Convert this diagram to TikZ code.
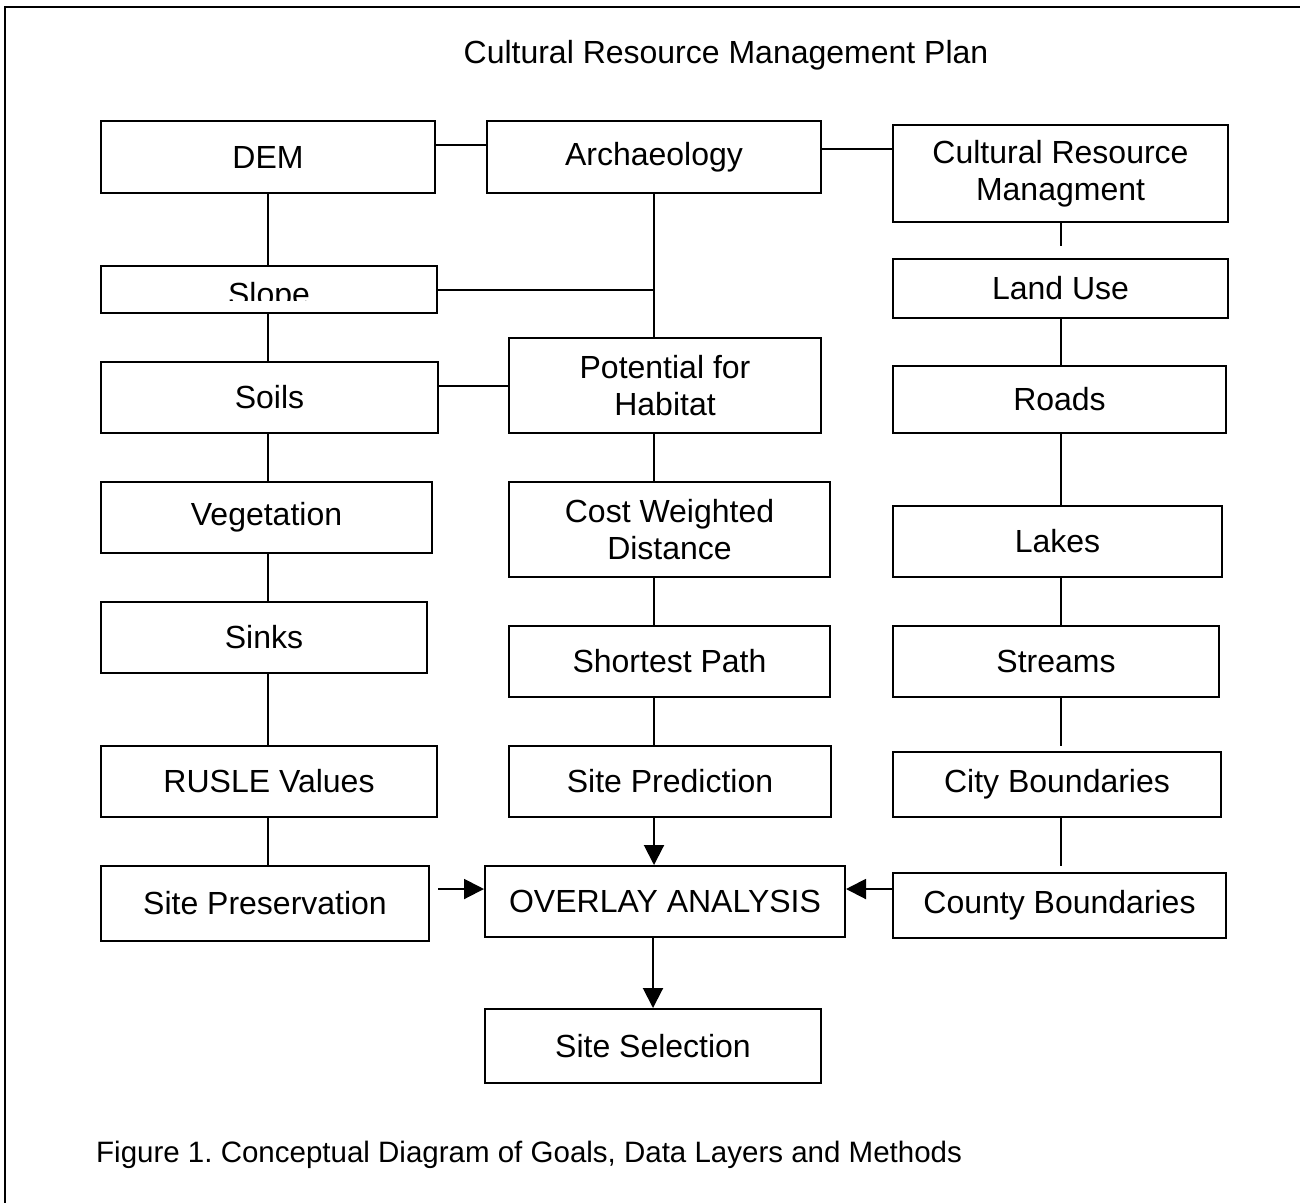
\documentclass[tikz,border=0pt]{standalone}
\usepackage{fontspec}
\setmainfont{Liberation Sans}
\usetikzlibrary{arrows.meta}
\frenchspacing

\tikzset{
  box/.style 2 args={draw, line width=2pt, inner sep=0pt, align=center,
    minimum width=#1pt, minimum height=#2pt},
  link/.style={line width=2pt},
  flow/.style={line width=2pt, -{Triangle[length=20pt,width=20pt]}}
}

\begin{document}
\begin{tikzpicture}[x=1pt, y=-1pt, font=\fontsize{32}{37}\selectfont]
  \useasboundingbox (0,0) rectangle (1300,1203);
  % frame (top and left edges only)
  \coordinate (frtr) at (1300,7);
  \coordinate (frtl) at (5,7);
  \coordinate (frbl) at (5,1203);
  \draw[link] (frtr) -- (frtl) -- (frbl);

  \node[anchor=base, inner sep=0pt] (title) at (726,63.5) {Cultural Resource Management Plan};

  % left column
  \node[box={334}{72}] (dem) at (268,157) {DEM};
  \node[box={336}{47}] (slope) at (269,289.5) {};
  \node[box={337}{71}] (soils) at (269.5,397.5) {Soils};
  \node[box={331}{71}] (veg) at (266.5,517.5) {Vegetation};
  \node[box={326}{71}] (sinks) at (264,637.5) {Sinks};
  \node[box={336}{71}] (rusle) at (269,781.5) {RUSLE Values};
  \node[box={328}{75}] (preserve) at (265,903.5) {Site Preservation};

  % middle column
  \node[box={334}{72}] (arch) at (654,157) {Archaeology};
  \node[box={312}{95}] (habitat) at (665,385.5) {Potential for\\Habitat};
  \node[box={321}{95}] (cost) at (669.5,529.5) {Cost Weighted\\Distance};
  \node[box={321}{71}] (path) at (669.5,661.5) {Shortest Path};
  \node[box={322}{71}] (predict) at (670,781.5) {Site Prediction};
  \node[box={360}{71}] (overlay) at (665,901.5) {OVERLAY ANALYSIS};
  \node[box={336}{74}] (select) at (653,1046) {Site Selection};

  % right column
  \node[box={335}{97}] (crm) at (1060.5,173.5) {Cultural Resource\\Managment};
  \node[box={335}{59}] (landuse) at (1060.5,288.5) {Land Use};
  \node[box={333}{67}] (roads) at (1059.5,399.5) {Roads};
  \node[box={329}{71}] (lakes) at (1057.5,541.5) {Lakes};
  \node[box={326}{71}] (streams) at (1056,661.5) {Streams};
  \node[box={328}{65}] (city) at (1057,784.5) {City Boundaries};
  \node[box={333}{65}] (county) at (1059.5,905.5) {County Boundaries};

  % slope label, cut off at the bottom
  \coordinate (slopecut) at (437,300);
  \begin{scope}
    \clip (slope.north west) rectangle (slopecut);
    \node[anchor=base, inner sep=0pt] (slopetxt) at (269,305) {Slope};
  \end{scope}

  % connectors
  \foreach \a/\b in {dem/slope, slope/soils, soils/veg, veg/sinks, sinks/rusle, rusle/preserve}
    \draw[link] (\a.south -| dem) -- (\b.north -| dem);
  \foreach \a/\b in {arch/habitat, habitat/cost, cost/path, path/predict}
    \draw[link] (\a.south -| arch) -- (\b.north -| arch);
  \foreach \a/\b in {landuse/roads, roads/lakes, lakes/streams}
    \draw[link] (\a.south -| crm) -- (\b.north -| crm);

  \draw[link] ([yshift=12pt]dem.east) -- ([yshift=12pt]dem.east -| arch.west);
  \draw[link] ([yshift=8pt]arch.east) -- ([yshift=8pt]arch.east -| crm.west);
  \draw[link] (slope.east) -- (slope.east -| arch);
  \draw[link] ([yshift=11.5pt]soils.east) -- ([yshift=11.5pt]soils.east -| habitat.west);

  % open ends in the right column
  \coordinate (crmend) at (1060.5,246);
  \coordinate (streamsend) at (1060.5,746);
  \coordinate (cityend) at (1060.5,866);
  \draw[link] (crm.south) -- (crmend);
  \draw[link] (streams.south -| crm) -- (streamsend);
  \draw[link] (city.south -| crm) -- (cityend);

  % arrows into and out of the overlay
  \coordinate (inl) at ([yshift=12.5pt]overlay.west);
  \coordinate (inr) at ([yshift=12.5pt]overlay.east);
  \draw[flow] (predict.south -| arch) -- (overlay.north -| arch);
  \draw[flow] ([xshift=8pt]preserve.east |- inl) -- (inl);
  \draw[flow] (county.west |- inr) -- (inr);
  \draw[flow] (overlay.south -| select) -- (select.north);

  \node[anchor=base west, inner sep=0pt, font=\fontsize{29.5}{35}\selectfont] (caption) at (96,1162.5)
    {Figure 1. Conceptual Diagram of Goals, Data Layers and Methods};
\end{tikzpicture}
\end{document}
